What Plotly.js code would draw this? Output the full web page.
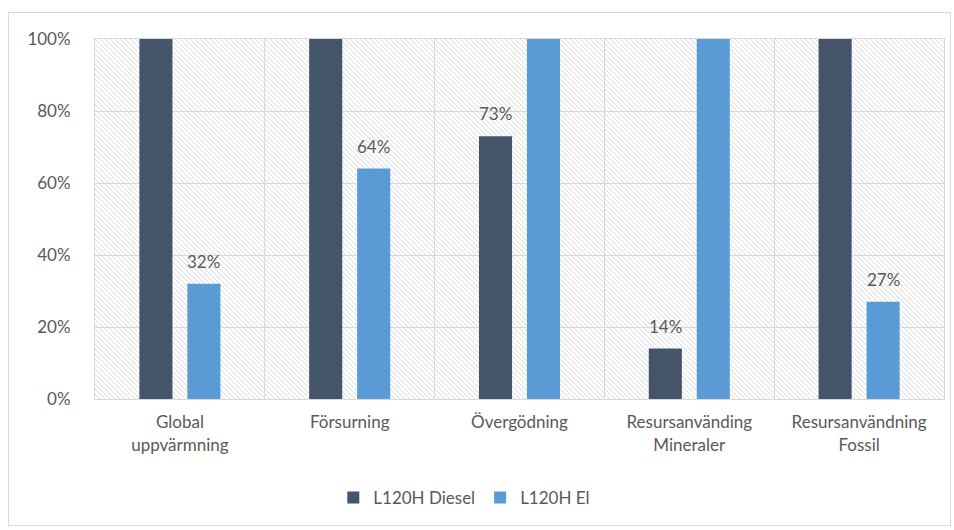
<!DOCTYPE html>
<html>
<head>
<meta charset="utf-8">
<script src="https://cdn.plot.ly/plotly-3.0.1.min.js"></script>
<style>
  html, body { margin: 0; padding: 0; background: #ffffff; }
  #frame { position: absolute; left: 8px; top: 12px; width: 941px; height: 512px;
           border: 1px solid #d9d9d9; box-sizing: content-box; }
  #chart { width: 941px; height: 512px; }
</style>
</head>
<body>
<div id="frame"><div id="chart"></div></div>
<script>
// Impact categories (x axis)
const categories = [
  "Global<br>uppvärmning",
  "Försurning",
  "Övergödning",
  "Resursanvänding<br>Mineraler",
  "Resursanvändning<br>Fossil"
];

// Relative impact per machine, in percent
const dieselValues = [100, 100, 73, 14, 100];
const elValues = [32, 64, 100, 100, 27];

const seriesNames = ["L120H Diesel", "L120H El"];
const yTicks = [0, 20, 40, 60, 80, 100];

const fontFamily = "Lato, 'Open Sans', sans-serif";
const textGrey = "#595959";
const fontSize = 17;

// Diagonal hatch used as the plot-area background
const hatchSvg =
  '<svg xmlns="http://www.w3.org/2000/svg" width="849" height="360" viewBox="0 0 849 360" preserveAspectRatio="none">' +
  '<defs><pattern id="h" patternUnits="userSpaceOnUse" width="5" height="5">' +
  '<path d="M-1,-1 L6,6 M-1,4 L1,6 M4,-1 L6,1" stroke="#dadada" stroke-width="1"/>' +
  '</pattern></defs><rect width="849" height="360" fill="#ffffff"/>' +
  '<rect width="849" height="360" fill="url(#h)"/></svg>';

const traces = [
  {
    type: "bar",
    name: seriesNames[0],
    x: categories,
    y: dieselValues,
    marker: { color: "#44546A" },
    hoverinfo: "x+y"
  },
  {
    type: "bar",
    name: seriesNames[1],
    x: categories,
    y: elValues,
    marker: { color: "#5B9BD5" },
    hoverinfo: "x+y"
  }
];

// Value labels above the bars that stay below 100 %
const annotations = [];
[dieselValues, elValues].forEach((vals, s) => {
  vals.forEach((v, i) => {
    if (v >= 100) return;
    annotations.push({
      x: categories[i],
      y: v,
      xref: "x",
      yref: "y",
      text: v + "%",
      showarrow: false,
      xanchor: "center",
      yanchor: "bottom",
      xshift: s === 0 ? -24 : 24,
      yshift: 10,
      font: { family: fontFamily, size: fontSize, color: textGrey }
    });
  });
});

const layout = {
  width: 941,
  height: 512,
  margin: { l: 86, r: 6, t: 26, b: 126 },
  paper_bgcolor: "rgba(0,0,0,0)",
  plot_bgcolor: "rgba(0,0,0,0)",
  barmode: "group",
  bargap: 0.435,
  bargroupgap: 0.31,
  font: { family: fontFamily, size: fontSize, color: textGrey },
  showlegend: true,
  legend: {
    orientation: "h",
    x: 0.435,
    xanchor: "center",
    y: -0.275,
    yanchor: "middle",
    font: { family: fontFamily, size: fontSize, color: textGrey },
    itemwidth: 30,
    traceorder: "normal"
  },
  annotations: annotations,
  xaxis: {
    type: "category",
    tickson: "boundaries",
    showgrid: true,
    gridcolor: "#d9d9d9",
    showline: true,
    mirror: true,
    linecolor: "#d9d9d9",
    ticks: "",
    ticklen: 0,
    ticklabelstandoff: 8,
    tickfont: { family: fontFamily, size: fontSize, color: textGrey },
    fixedrange: true
  },
  yaxis: {
    range: [0, 100],
    tickvals: yTicks,
    ticktext: yTicks.map(v => v + "%"),
    showgrid: true,
    gridcolor: "#d9d9d9",
    showline: true,
    mirror: true,
    linecolor: "#d9d9d9",
    zeroline: false,
    ticks: "",
    tickfont: { family: fontFamily, size: fontSize, color: textGrey },
    ticklabelstandoff: 20,
    fixedrange: true
  },
  images: [{
    source: "data:image/svg+xml;charset=utf-8," + encodeURIComponent(hatchSvg),
    xref: "paper", yref: "paper",
    x: 0, y: 1, sizex: 1, sizey: 1,
    xanchor: "left", yanchor: "top",
    sizing: "stretch",
    layer: "below"
  }]
};

Plotly.newPlot("chart", traces, layout, { displayModeBar: false, staticPlot: true });
</script>
</body>
</html>
